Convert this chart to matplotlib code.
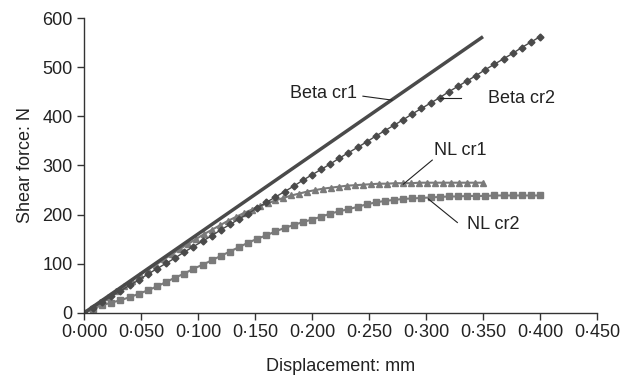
import matplotlib.pyplot as plt
from matplotlib.ticker import FuncFormatter

plt.rcParams['font.family'] = ['Liberation Sans', 'DejaVu Sans']

# Beta cr1: straight line, no markers
beta1_x = [0.0, 0.35]
beta1_y = [0, 562]

# Beta cr2: diamonds every 0.008 mm
beta2_x = [i * 0.008 for i in range(51)]
beta2_y = [0, 11, 22, 34, 45, 56, 67, 79, 90, 101, 112, 124, 135, 146, 157, 169,
           180, 191, 202, 214, 225, 236, 247, 258, 270, 281, 292, 303, 315, 326,
           337, 348, 360, 371, 382, 393, 405, 416, 427, 438, 450, 461, 472, 483,
           495, 506, 517, 528, 540, 551, 562]

# NL cr1: triangles every 0.007 mm
nl1_x = [i * 0.007 for i in range(51)]
nl1_y = [0, 11, 22, 33, 44, 55, 66, 77, 88, 98, 109, 119, 130, 140, 150, 160,
         169, 178, 187, 195, 203, 210, 217, 223, 229, 234, 239, 243, 247, 250,
         253, 255, 257, 259, 260, 261, 262, 263, 263, 264, 264, 264, 265, 265,
         265, 265, 265, 265, 265, 265, 265]

# NL cr2: squares every 0.008 mm
nl2_x = [i * 0.008 for i in range(51)]
nl2_y = [0, 9, 16, 21, 26, 32, 39, 46, 54, 63, 72, 80, 90, 98, 107, 116, 125,
         134, 143, 151, 158, 166, 173, 179, 185, 190, 196, 202, 207, 211, 216,
         221, 225, 228, 230, 232, 233, 234, 235, 236, 237, 237, 238, 238, 238,
         239, 239, 239, 239, 239, 239]

dark = '#4a4a4a'
mid = '#7a7a7a'
txt = '#222222'

fig = plt.figure(figsize=(6.36, 3.76), dpi=100)
ax = fig.add_axes([0.132, 0.1676, 0.8067, 0.7845])

ax.plot(nl2_x, nl2_y, color=mid, lw=1.5, marker='s', ms=5, mec=mid, mfc=mid)
ax.plot(nl1_x, nl1_y, color=mid, lw=1.5, marker='^', ms=5, mec=mid, mfc=mid)
ax.plot(beta2_x, beta2_y, color=dark, lw=1.0, marker='D', ms=3.5, mec=dark, mfc=dark)
ax.plot(beta1_x, beta1_y, color=dark, lw=2.5, solid_capstyle='butt')

# labels with leader lines
fs = 13
ax.text(0.1807, 447, 'Beta cr1', fontsize=fs, color=txt, va='center', ha='left')
ax.plot([0.2447, 0.2702], [441, 433], color='#222222', lw=0.8)
ax.text(0.3544, 437, 'Beta cr2', fontsize=fs, color=txt, va='center', ha='left')
ax.plot([0.3123, 0.3304], [438, 438], color='#222222', lw=0.8)
ax.text(0.307, 330, 'NL cr1', fontsize=fs, color=txt, va='center', ha='left')
ax.plot([0.3055, 0.2801], [311, 262], color='#222222', lw=0.8)
ax.text(0.3357, 179, 'NL cr2', fontsize=fs, color=txt, va='center', ha='left')
ax.plot([0.3275, 0.302], [184, 232], color='#222222', lw=0.8)

ax.set_xlim(0, 0.45)
ax.set_ylim(0, 600)
ax.set_xticks([i * 0.05 for i in range(10)])
ax.set_yticks(range(0, 601, 100))
ax.xaxis.set_major_formatter(FuncFormatter(lambda v, p: f'{v:.3f}'.replace('.', '\u00b7')))

for s in ['top', 'right']:
    ax.spines[s].set_visible(False)
for s in ['left', 'bottom']:
    ax.spines[s].set_color('#333333')
    ax.spines[s].set_linewidth(1.0)
ax.tick_params(direction='out', length=5, width=1, colors='#333333',
               labelsize=fs, labelcolor=txt, pad=3)

ax.set_xlabel('Displacement: mm', fontsize=fs, color=txt, labelpad=12)
ax.set_ylabel('Shear force: N', fontsize=fs, color=txt, labelpad=6)

fig.savefig('out.png', dpi=100)
